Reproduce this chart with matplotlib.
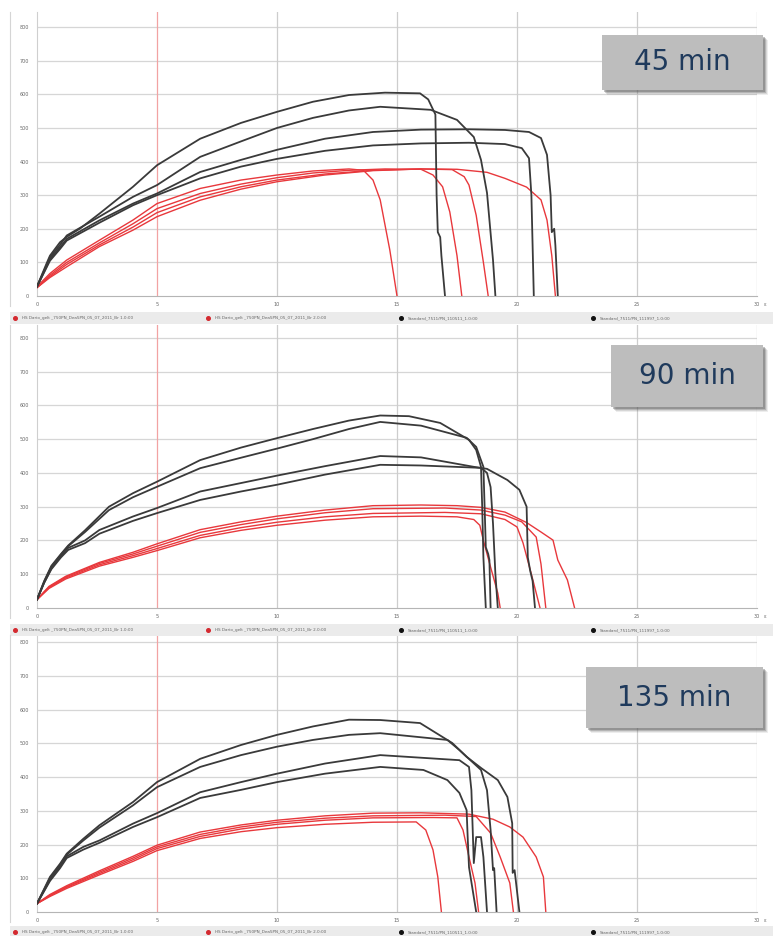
import matplotlib
matplotlib.use("Agg")
import matplotlib.pyplot as plt
from matplotlib.patches import Rectangle

# ============ data: force curves (x, value) ============
# 45 min
k45a = [(0, 28), (0.4, 97), (0.54, 120), (0.96, 160), (1.24, 176), (1.8, 201), (2.6, 245), (4, 325), (5, 389),
        (6.8, 468), (8.5, 515), (10, 548), (11.5, 578), (13, 598), (14.5, 605), (15.96, 603), (16.3, 585),
        (16.6, 540), (16.65, 300), (16.7, 190), (16.8, 175), (16.85, 120), (17.0, 0)]
k45b = [(0, 28), (0.4, 92), (0.54, 115), (0.96, 152), (1.24, 180), (2.6, 236), (4, 295), (5, 330), (6.8, 414),
        (8.5, 460), (10, 500), (11.5, 530), (13, 552), (14.3, 563), (16.4, 554), (17.5, 524), (18.2, 473),
        (18.5, 405), (18.75, 307), (19.0, 107), (19.1, 0)]
k45c = [(0, 28), (0.4, 88), (0.54, 110), (0.96, 145), (1.24, 170), (2.6, 225), (4, 275), (5, 305), (6.8, 369),
        (8.5, 405), (10, 435), (12, 468), (14, 488), (16, 495), (18, 496), (19.5, 494), (20.5, 488), (21.0, 470),
        (21.25, 420), (21.4, 300), (21.45, 190), (21.55, 200), (21.6, 150), (21.7, 0)]
k45d = [(0, 28), (0.4, 85), (0.54, 105), (0.96, 140), (1.24, 165), (2.6, 218), (4, 270), (5, 300), (6.8, 350),
        (8.5, 385), (10, 408), (12, 432), (14, 448), (16, 454), (18, 456), (19.5, 452), (20.2, 440), (20.5, 410),
        (20.6, 300), (20.65, 150), (20.7, 0)]
r45a = [(0, 28), (0.54, 67), (1.24, 107), (2.6, 166), (4, 226), (5, 275), (6.8, 320), (8.5, 345), (10, 360),
        (11.5, 372), (13, 378), (13.6, 374), (14.0, 345), (14.3, 286), (14.7, 137), (15.0, 0)]
r45b = [(0, 25), (0.54, 62), (1.24, 100), (2.6, 158), (4, 215), (5, 260), (6.8, 305), (8.5, 333), (10, 352),
        (11.5, 366), (13, 374), (14.5, 378), (16, 377), (16.5, 360), (16.9, 325), (17.2, 250), (17.5, 120), (17.7, 0)]
r45c = [(0, 25), (0.54, 58), (1.24, 94), (2.6, 152), (4, 205), (5, 248), (6.8, 295), (8.5, 325), (10, 345),
        (12, 363), (14, 374), (16, 378), (17.3, 376), (17.8, 355), (18.0, 330), (18.3, 240), (18.6, 100), (18.8, 0)]
r45d = [(0, 25), (0.54, 55), (1.24, 87), (2.6, 147), (4, 196), (5, 236), (6.8, 285), (8.5, 318), (10, 340),
        (12, 360), (14, 373), (16, 378), (17.5, 377), (18.75, 368), (19.5, 350), (20.4, 324), (21.0, 286),
        (21.25, 226), (21.45, 120), (21.6, 0)]

# 90 min
k90a = [(0, 25), (0.3, 80), (0.6, 125), (1, 160), (1.3, 185), (2, 230), (3, 300), (4, 340), (5, 374), (6.8, 438),
        (8.5, 475), (10, 503), (11.5, 530), (13, 555), (14.3, 570), (15.5, 568), (16.8, 548), (18.0, 498),
        (18.3, 468), (18.5, 418), (18.55, 300), (18.6, 150), (18.7, 0)]
k90b = [(0, 25), (0.3, 78), (0.6, 122), (1, 158), (1.3, 183), (2, 225), (3, 290), (4, 328), (5, 359), (6.8, 414),
        (8.5, 445), (10, 472), (11.5, 500), (13, 530), (14.3, 551), (16, 540), (17.9, 504), (18.3, 477),
        (18.6, 418), (18.65, 300), (18.7, 180), (18.8, 160), (18.85, 142), (18.9, 0)]
k90c = [(0, 25), (0.3, 75), (0.6, 118), (1, 155), (1.3, 178), (2, 200), (2.6, 231), (4, 271), (5, 296), (6.8, 345),
        (8.5, 370), (10, 392), (12, 420), (14.3, 450), (16, 446), (18.2, 418), (18.75, 412), (19.6, 379),
        (20.1, 350), (20.4, 300), (20.45, 150), (20.55, 110), (20.65, 80), (20.75, 0)]
k90d = [(0, 25), (0.3, 75), (0.6, 115), (1, 150), (1.3, 172), (2, 192), (2.6, 220), (4, 258), (5, 281), (6.8, 320),
        (8.5, 345), (10, 365), (12, 395), (14.3, 424), (16, 422), (18.5, 415), (18.75, 400), (18.9, 358),
        (19.0, 250), (19.1, 100), (19.2, 0)]
r90a = [(0, 25), (0.5, 64), (1.2, 94), (2.6, 135), (4, 165), (5, 190), (6.8, 232), (8.5, 255), (10, 272), (12, 290),
        (14, 303), (16, 305), (17.5, 303), (18.5, 298), (19.5, 284), (20.4, 253), (21, 225), (21.5, 201),
        (21.7, 142), (22.1, 83), (22.4, 0)]
r90b = [(0, 25), (0.5, 62), (1.2, 92), (2.6, 132), (4, 160), (5, 183), (6.8, 224), (8.5, 247), (10, 264), (12, 282),
        (14, 294), (17, 296), (18.5, 290), (19.5, 275), (20.2, 255), (20.8, 210), (21.0, 130), (21.2, 0)]
r90c = [(0, 25), (0.5, 60), (1.2, 89), (2.6, 128), (4, 155), (5, 176), (6.8, 215), (8.5, 238), (10, 254), (12, 270),
        (14, 280), (17, 283), (18.5, 279), (19.5, 262), (20.0, 240), (20.25, 193), (20.6, 100), (20.96, 0)]
r90d = [(0, 25), (0.5, 58), (1.2, 86), (2.6, 124), (4, 150), (5, 170), (6.8, 208), (8.5, 230), (10, 245), (12, 260),
        (14, 270), (16, 272), (17.5, 270), (18.2, 262), (18.45, 245), (18.6, 200), (18.9, 121), (19.2, 44), (19.3, 0)]

# 135 min
k135a = [(0, 25), (0.54, 104), (0.96, 143), (1.24, 173), (1.93, 217), (2.6, 257), (4, 326), (5, 385), (6.8, 454),
         (8.5, 495), (10, 525), (11.5, 550), (13, 570), (14.3, 569), (15.96, 560), (17.3, 501), (17.9, 460),
         (18.5, 427), (19.2, 391), (19.6, 341), (19.8, 263), (19.82, 116), (19.9, 124), (20.1, 0)]
k135b = [(0, 25), (0.54, 100), (0.96, 140), (1.24, 170), (1.93, 212), (2.6, 250), (4, 316), (5, 370), (6.8, 430),
         (8.5, 465), (10, 490), (11.5, 510), (13, 525), (14.3, 530), (17.1, 510), (17.6, 480), (18.5, 421),
         (18.75, 361), (18.9, 243), (19.0, 124), (19.05, 130), (19.15, 0)]
k135c = [(0, 25), (0.54, 95), (0.96, 135), (1.24, 165), (1.93, 193), (2.6, 212), (4, 262), (5, 293), (6.8, 355),
         (8.5, 385), (10, 410), (12, 440), (14.3, 465), (17.6, 450), (18.0, 430), (18.1, 361), (18.2, 145),
         (18.3, 222), (18.5, 222), (18.6, 163), (18.75, 0)]
k135d = [(0, 25), (0.54, 92), (0.96, 130), (1.24, 160), (1.93, 185), (2.6, 205), (4, 252), (5, 281), (6.8, 338),
         (8.5, 362), (10, 385), (12, 410), (14.3, 430), (16.1, 421), (17.1, 391), (17.6, 353), (17.9, 302),
         (17.95, 213), (18.0, 133), (18.3, 0)]
r135a = [(0, 25), (0.54, 52), (1.24, 78), (2.6, 122), (4, 165), (5, 198), (6.8, 237), (8.5, 258), (10, 272),
         (12, 285), (14, 293), (16, 294), (18, 290), (19.0, 275), (19.7, 252), (20.25, 222), (20.8, 163),
         (21.1, 104), (21.2, 0)]
r135b = [(0, 25), (0.54, 50), (1.24, 75), (2.6, 118), (4, 160), (5, 193), (6.8, 230), (8.5, 252), (10, 266),
         (12, 278), (14, 285), (17, 287), (18.3, 283), (18.9, 234), (19.3, 163), (19.7, 86), (19.85, 0)]
r135c = [(0, 25), (0.54, 48), (1.24, 73), (2.6, 114), (4, 155), (5, 188), (6.8, 224), (8.5, 246), (10, 260),
         (12, 272), (14, 279), (16.5, 280), (17.5, 279), (17.75, 243), (18.0, 163), (18.25, 86), (18.4, 0)]
r135d = [(0, 25), (0.54, 46), (1.24, 70), (2.6, 110), (4, 150), (5, 182), (6.8, 218), (8.5, 238), (10, 250),
         (12, 260), (14, 266), (15.8, 267), (16.2, 243), (16.5, 184), (16.7, 104), (16.85, 0)]

panel_titles = ["45 min", "90 min", "135 min"]
black_curves = [[k45a, k45b, k45c, k45d], [k90a, k90b, k90c, k90d], [k135a, k135b, k135c, k135d]]
red_curves = [[r45a, r45b, r45c, r45d], [r90a, r90b, r90c, r90d], [r135a, r135b, r135c, r135d]]
legend_labels = ["HS Dario_gelt _750PN_Dea5PN_05_07_2011_Br 1.0:00",
                 "HS Dario_gelt _750PN_Dea5PN_05_07_2011_Br 2.0:00",
                 "Standard_7511/PN_110511_1.0:00",
                 "Standard_7511/PN_111997_1.0:00"]
y_ticks = [0, 100, 200, 300, 400, 500, 600, 700, 800]
x_ticks = [0, 5, 10, 15, 20, 25, 30]

# ============ layout (pixels) ============
W, H = 773, 936
fig = plt.figure(figsize=(W / 100, H / 100), dpi=100)
fig.patch.set_facecolor("white")

# (axes top, axes bottom, y top limit, legend y, box left, box top, box right, box bottom)
panels = [(12, 296, 845, 318, 602, 35, 763, 90),
          (325, 608, 838, 630, 611, 345, 763, 407),
          (635, 912, 821, 932, 586, 667, 763, 728)]
AX_L, AX_R = 37, 757


def fx(px):
    return px / W


def fy(py):
    return 1 - py / H


for i, (top, bot, ytop, leg_y, bl, bt, br, bb) in enumerate(panels):
    ax = fig.add_axes([fx(AX_L), fy(bot), fx(AX_R - AX_L), (bot - top) / H])
    ax.set_xlim(0, 30)
    ax.set_ylim(0, ytop)
    ax.set_facecolor("white")
    for s in ["top", "right"]:
        ax.spines[s].set_visible(False)
    ax.spines["left"].set_color("#cfcfcf")
    ax.spines["bottom"].set_color("#b5b5b5")
    ax.spines["left"].set_linewidth(0.8)
    ax.spines["bottom"].set_linewidth(0.8)

    for v in y_ticks[1:]:
        ax.axhline(v, color="#d6d6d6", lw=0.9, zorder=0)
    for v in x_ticks[1:]:
        col = "#f2a3a3" if v == 5 else "#cdcdcd"
        ax.axvline(v, color=col, lw=0.9, zorder=0)

    ax.set_yticks(y_ticks)
    ax.set_xticks(x_ticks)
    ax.set_yticklabels([str(v) for v in y_ticks])
    ax.set_xticklabels([str(v) for v in x_ticks])
    ax.tick_params(axis="both", length=0, labelsize=3.5, labelcolor="#666666")
    ax.tick_params(axis="y", pad=6)
    ax.tick_params(axis="x", pad=4)

    for c in red_curves[i]:
        ax.plot([p[0] for p in c], [p[1] for p in c], color="#e8383c", lw=1.0, zorder=3)
    for c in black_curves[i]:
        ax.plot([p[0] for p in c], [p[1] for p in c], color="#3a3a3a", lw=1.3, zorder=4)

    fig.text(fx(765), fy(bot + 9), "ε", fontsize=3.5, color="#666666", ha="center", va="center")

    # outer frame line on the left
    fig.add_artist(plt.Line2D([fx(10), fx(10)], [fy(top), fy(bot + 10)], color="#d5d5d5", lw=0.8))

    # legend band
    fig.patches.append(Rectangle((fx(10), fy(leg_y + 6)), fx(763), 12 / H, transform=fig.transFigure,
                                 facecolor="#ebebeb", edgecolor="none", zorder=0))
    leg_x = [15, 208, 401, 593]
    leg_c = ["#d42a30", "#d42a30", "#111111", "#111111"]
    for lx, lc, lab in zip(leg_x, leg_c, legend_labels):
        fig.add_artist(plt.Line2D([fx(lx)], [fy(leg_y)], marker="o", markersize=2.6, color=lc, lw=0))
        fig.text(fx(lx + 7), fy(leg_y), lab, fontsize=3.0, color="#666666", ha="left", va="center")

    # title box with shadow
    for k, a in [(5, 0.10), (4, 0.15), (3, 0.25), (2, 0.35)]:
        fig.patches.append(Rectangle((fx(bl + k), fy(bb + k)), fx(br - bl), (bb - bt) / H,
                                     transform=fig.transFigure, facecolor="#555555", alpha=a,
                                     edgecolor="none", zorder=5))
    fig.patches.append(Rectangle((fx(bl), fy(bb)), fx(br - bl), (bb - bt) / H, transform=fig.transFigure,
                                 facecolor="#bdbdbd", edgecolor="none", zorder=6))
    fig.text(fx((bl + br) / 2), fy((bt + bb) / 2), panel_titles[i], fontsize=20, color="#1f3a5c",
             ha="center", va="center", zorder=7)

fig.savefig("out.png", dpi=100)
